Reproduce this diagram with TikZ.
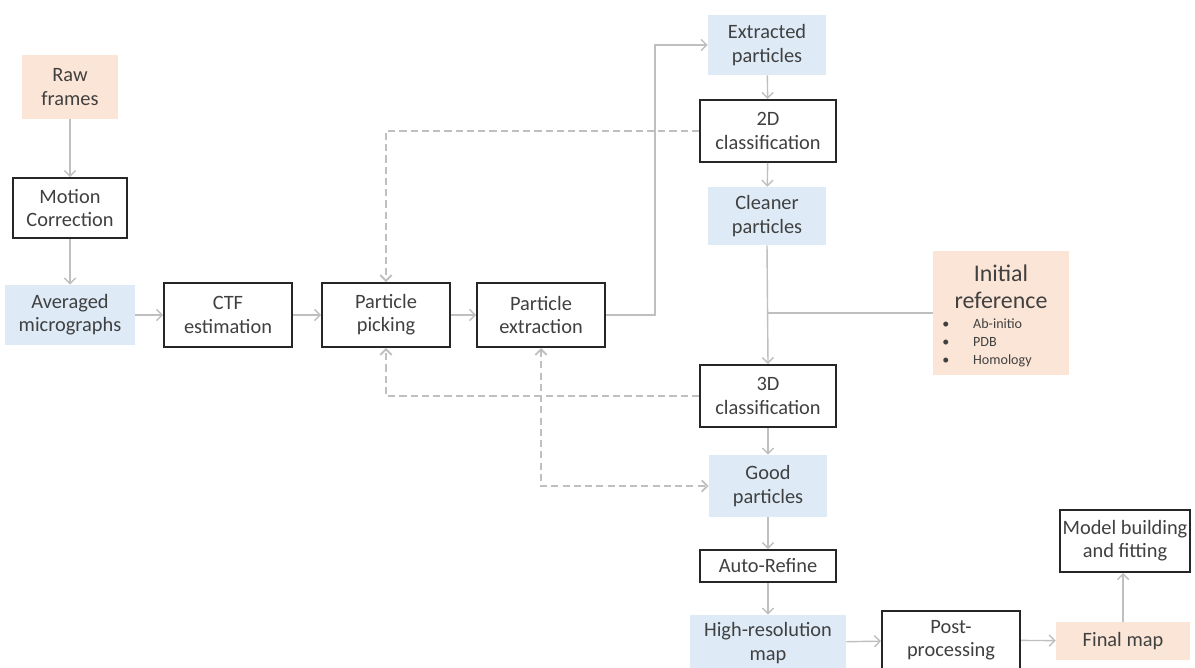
\documentclass[tikz,border=0pt]{standalone}
\usepackage{fontspec}
\setmainfont{Carlito}
\usetikzlibrary{arrows.meta}
\definecolor{peach}{HTML}{FBE5D6}
\definecolor{paleblue}{HTML}{DEEBF7}
\definecolor{linegray}{HTML}{BFBFBF}
\definecolor{boxline}{HTML}{262626}
\definecolor{textgray}{HTML}{404040}
\begin{document}
\begin{tikzpicture}[x=0.025cm, y=-0.025cm,
    every node/.style={text=textgray, align=center, inner sep=0pt,
      font=\fontsize{14.5}{16.5}\selectfont},
    stepbox/.style={draw=boxline, line width=1.4pt, fill=white},
    databox/.style={fill=paleblue},
    inbox/.style={fill=peach},
    flow/.style={draw=linegray, line width=1pt, -{Straight Barb[length=4pt,width=8pt]}},
    back/.style={flow, line width=1.3pt, dash pattern=on 5pt off 3pt}]
    \useasboundingbox (0,0) rectangle (1195,668);

    % left column
    \node[inbox, minimum width=2.4cm, minimum height=1.6cm] (raw) at (70,87) {Raw\\frames};
    \node[stepbox, minimum width=2.85cm, minimum height=1.5cm] (motion) at (70,208) {Motion\\Correction};
    \node[databox, minimum width=3.25cm, minimum height=1.5cm] (avg) at (70,315) {Averaged\\micrographs};

    % middle row
    \node[stepbox, minimum width=3.2cm, minimum height=1.6cm] (ctf) at (228,315) {CTF\\estimation};
    \node[stepbox, minimum width=3.2cm, minimum height=1.6cm] (pick) at (386,315) {Particle\\picking};
    \node[stepbox, minimum width=3.2cm, minimum height=1.6cm] (extract) at (541,315) {Particle\\extraction};

    % right column
    \node[databox, minimum width=2.95cm, minimum height=1.5cm] (extracted) at (767,45) {Extracted\\particles};
    \node[stepbox, minimum width=3.4cm, minimum height=1.55cm] (class2d) at (768,131) {2D\\classification};
    \node[databox, minimum width=2.95cm, minimum height=1.45cm] (cleaner) at (767,216) {Cleaner\\particles};
    \node[stepbox, minimum width=3.4cm, minimum height=1.55cm] (class3d) at (768,396) {3D\\classification};
    \node[databox, minimum width=2.95cm, minimum height=1.55cm] (good) at (768,486) {Good\\particles};
    \node[stepbox, minimum width=3.4cm, minimum height=0.8cm] (refine) at (768,566) {Auto-Refine};
    \node[databox, minimum width=3.9cm, minimum height=1.4cm] (hires) at (768,643) {High-resolution\\map};
    \node[stepbox, minimum width=3.45cm, minimum height=1.45cm] (post) at (951,640) {Post-\\processing};
    \node[inbox, minimum width=3.35cm, minimum height=0.95cm] (final) at (1123,641) {Final map};
    \node[stepbox, minimum width=3.25cm, minimum height=1.55cm] (model) at (1125,541) {Model building\\and fitting};

    % initial reference
    \node[inbox, minimum width=3.4cm, minimum height=3.1cm] (initref) at (1001,313) {};
    \node[font=\fontsize{17}{19}\selectfont] (reftitle) at (1001,287) {Initial\\reference};
    \node[anchor=north west, font=\fontsize{10}{13}\selectfont, align=left] (reflist) at (942,315)
      {\begin{tabular}{@{}l@{\hspace{17pt}}l@{}}
        \textbullet & Ab-initio\\
        \textbullet & PDB\\
        \textbullet & Homology
      \end{tabular}};

    % main flow
    \draw[flow] (raw) -- (motion);
    \draw[flow] (motion) -- (avg);
    \draw[flow] (avg) -- (ctf);
    \draw[flow] (ctf) -- (pick);
    \draw[flow] (pick) -- (extract);
    \draw[flow] (extract.east) -- ++(49,0) |- (extracted.west);
    \draw[flow] (extracted) -- (class2d);
    \draw[flow] (class2d) -- (cleaner);
    \draw[flow] (cleaner.south) -- (class3d.north);
    \draw[flow, -] (initref.west) -- (initref.west -| cleaner.south);
    \draw[flow] (class3d) -- (good);
    \draw[flow] (good) -- (refine);
    \draw[flow] (refine) -- (hires);
    \draw[flow] (hires) -- (post);
    \draw[flow] (post) -- (final);
    \draw[flow] (final.north) -- (final.north |- model.south);

    % feedback loops
    \draw[back] (class2d.west) -| (pick.north);
    \draw[back] (class3d.west) -| (pick.south);
    \draw[back, {Straight Barb[length=4pt,width=8pt]}-{Straight Barb[length=4pt,width=8pt]}]
      (extract.south) |- (good.west);
\end{tikzpicture}
\end{document}
